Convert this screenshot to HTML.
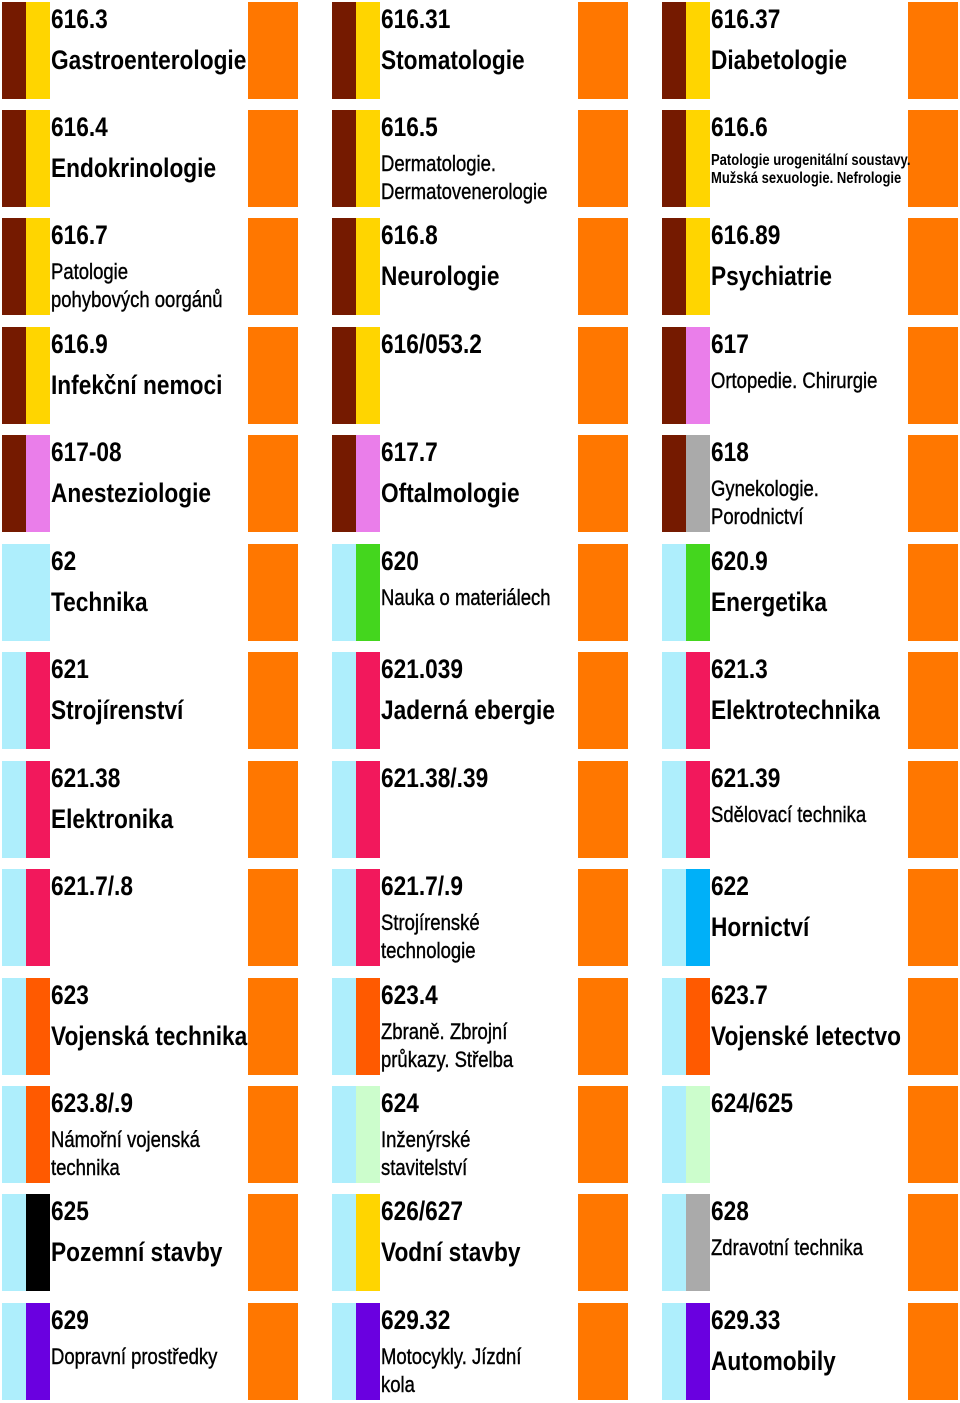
<!DOCTYPE html>
<html><head><meta charset="utf-8">
<style>
body{margin:0;width:960px;height:1403px;background:#fff;position:relative;overflow:hidden;font-family:"Liberation Sans",sans-serif;}
.cell{position:absolute;width:297px;height:97px;}
.s{position:absolute;top:0;height:97px;width:24px;}
.o{position:absolute;left:246px;top:0;width:50px;height:97px;background:#ff7700;}
.t{position:absolute;left:49px;white-space:nowrap;color:#000;font-weight:bold;transform:scaleX(0.84);transform-origin:left top;}
.num{top:2px;font-size:27px;line-height:30px;}
.big{top:43px;font-size:27px;line-height:30px;}
.mid{top:40px;font-size:22px;line-height:28px;font-weight:normal;-webkit-text-stroke:0.4px #000;}
.tiny{top:42px;font-size:15.5px;line-height:18px;}
</style></head><body>
<script>
const codes=["616.3","616.31","616.37","616.4","616.5","616.6","616.7","616.8","616.89","616.9","616/053.2","617","617-08","617.7","618","62","620","620.9","621","621.039","621.3","621.38","621.38/.39","621.39","621.7/.8","621.7/.9","622","623","623.4","623.7","623.8/.9","624","624/625","625","626/627","628","629","629.32","629.33"];
const names=["Gastroenterologie","Stomatologie","Diabetologie","Endokrinologie","Dermatologie.\nDermatovenerologie","Patologie urogenitální soustavy.\nMužská sexuologie. Nefrologie","Patologie\npohybových oorgánů","Neurologie","Psychiatrie","Infekční nemoci","","Ortopedie. Chirurgie","Anesteziologie","Oftalmologie","Gynekologie.\nPorodnictví","Technika","Nauka o materiálech","Energetika","Strojírenství","Jaderná ebergie","Elektrotechnika","Elektronika","","Sdělovací technika","","Strojírenské\ntechnologie","Hornictví","Vojenská technika","Zbraně. Zbrojní\nprůkazy. Střelba","Vojenské letectvo","Námořní vojenská\ntechnika","Inženýrské\nstavitelství","","Pozemní stavby","Vodní stavby","Zdravotní technika","Dopravní prostředky","Motocykly. Jízdní\nkola","Automobily"];
const sizes=["big","big","big","big","mid","tiny","mid","big","big","big","big","mid","big","big","mid","big","mid","big","big","big","big","big","big","mid","big","mid","big","big","mid","big","mid","mid","big","big","big","mid","mid","mid","big"];
const c1=["b","b","b","b","b","b","b","b","b","b","b","b","b","b","b","l","l","l","l","l","l","l","l","l","l","l","l","l","l","l","l","l","l","l","l","l","l","l","l"];
const c2=["y","y","y","y","y","y","y","y","y","y","y","p","p","p","g","l","G","G","r","r","r","r","r","r","r","r","B","o","o","o","o","v","v","k","y","g","u","u","u"];
const pal={b:"#751a00",y:"#ffd500",p:"#ea7eea",g:"#aaaaaa",l:"#aeeefc",G:"#44d61e",r:"#f2185c",B:"#00b0f8",o:"#ff5a00",v:"#ccfdcc",k:"#000000",u:"#6a00e0"};
const colX=[2,332,662];
const rowY=[2,110,218,327,435,544,652,761,869,978,1086,1194,1303];
codes.forEach((code,i)=>{
  const d=document.createElement('div');
  d.className='cell';
  d.style.left=colX[i%3]+'px';
  d.style.top=rowY[Math.floor(i/3)]+'px';
  
  
  const s1=document.createElement('div');s1.className='s';s1.style.left='0px';s1.style.background=pal[c1[i]];
  
  
  const s2=document.createElement('div');s2.className='s';s2.style.left='24px';s2.style.background=pal[c2[i]];
  
  
  const o=document.createElement('div');o.className='o';
  
  
  const n=document.createElement('div');n.className='t num';n.textContent=code;
  
  
  d.append(s1,s2,o,n);
  if(names[i]){
    const t=document.createElement('div');t.className='t '+sizes[i];
    t.innerHTML=names[i].replace('\n','<br>');
    
    
    d.append(t);
  }
  document.body.append(d);
});
</script>
</body></html>
